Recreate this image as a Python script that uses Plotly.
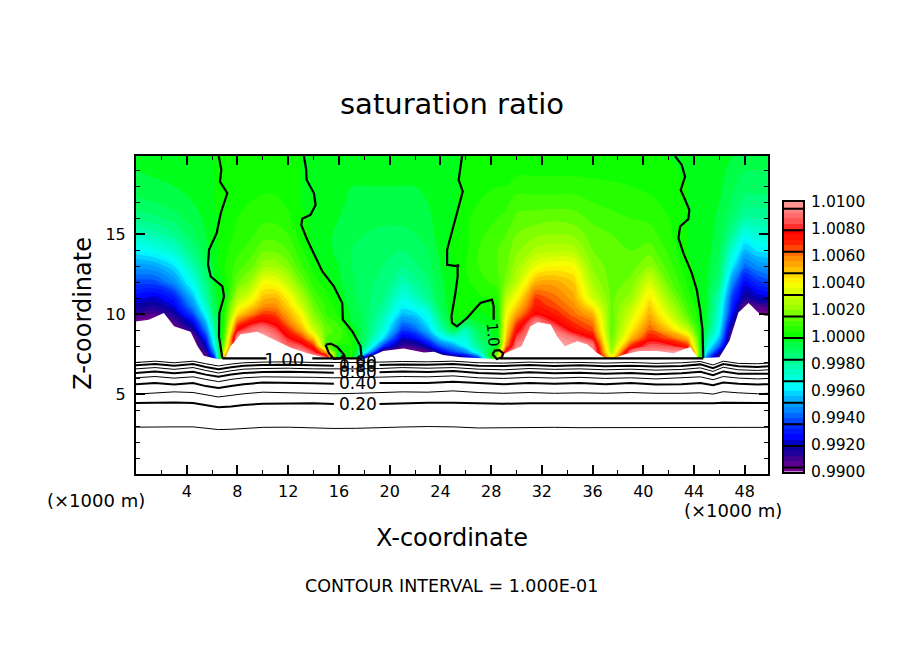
import numpy as np
import plotly.graph_objects as go

# grid of the saturation ratio field, deviation from 1.0 in units of 1e-4
x_grid = [0, 1.5, 3, 4.5, 5.5, 6.2, 7, 8, 9, 10, 11, 12, 13, 14, 15, 16, 17, 18, 19.5, 20, 21, 22, 23, 24, 25, 26, 27,
          28.5, 29.2, 30, 31.5, 33, 34.5, 36, 37.5, 39, 40.5, 42, 43.5, 45, 46, 47, 48, 49, 49.83]
z_grid = [7.2, 7.6, 8, 8.5, 9, 9.5, 10, 10.5, 11, 12, 13, 14, 15, 16, 17, 18, 19, 19.9]

# one profile per x_grid entry, bottom to top
profiles = [
    [-100, -100, -100, -100, -100, -100, -88, -82, -75, -62, -50, -37, -25, -15, -9, -6, -4, -3],
    [-100, -100, -100, -100, -100, -100, -92, -84, -78, -62, -48, -33, -22, -13, -8, -5, -3, -2],
    [-100, -100, -100, -100, -100, -92, -84, -76, -70, -52, -40, -27, -17, -10, -6, -4, -3, -2],
    [-100, -100, -100, -100, -85, -75, -62, -52, -45, -32, -22, -14, -9, -6, -4, -3, -2, -1],
    [-100, -90, -80, -68, -55, -45, -35, -28, -22, -15, -10, -6, -4, -3, -2, -2, -1, -1],
    [-70, -50, -35, -27, -20, -15, -10, -7, -5, -3, -2, -1, -1, -1, 0, 0, 0, 0],
    [60, 40, 25, 15, 10, 7, 5, 3, 1, 1, 4, 3, 2, 2, 1, 1, 1, 0],
    [100, 100, 100, 100, 78, 62, 45, 35, 26, 15, 10, 7, 5, 4, 3, 2, 1, 0],
    [100, 100, 100, 100, 90, 75, 58, 46, 36, 22, 14, 10, 7, 5, 4, 3, 2, 1],
    [100, 100, 100, 100, 95, 80, 68, 57, 50, 38, 22, 15, 10, 7, 5, 3, 2, 1],
    [100, 100, 100, 95, 85, 75, 66, 58, 52, 37, 23, 15, 10, 7, 5, 3, 2, 1],
    [100, 100, 90, 80, 70, 60, 53, 47, 42, 28, 18, 12, 8, 5, 3, 2, 1, 1],
    [100, 100, 85, 70, 55, 46, 40, 32, 26, 16, 9, 5, 2, 1, 0, 0, 0, 0],
    [100, 85, 70, 48, 32, 24, 19, 15, 12, 6, 2, 0, -1, -1, -1, -1, -1, -1],
    [100, 55, 15, 12, 14, 12, 8, 7, 5, 2, -1, -3, -3, -3, -2, -1, -1, -1],
    [-15, -5, 3, 10, 10, 7, 3, 2, -1, -3, -4, -5, -5, -4, -3, -2, -2, -2],
    [8, 6, 4, 2, 0, -4, -5, -6, -7, -7, -8, -8, -7, -6, -5, -4, -3, -3],
    [-85, -30, -14, -10, -9, -9, -9, -10, -10, -10, -10, -9, -8, -6, -5, -4, -3, -3],
    [-100, -100, -65, -40, -30, -26, -22, -18, -16, -14, -12, -10, -9, -7, -5, -4, -3, -2],
    [-100, -100, -75, -55, -42, -36, -30, -25, -21, -16, -13, -11, -9, -7, -5, -4, -3, -2],
    [-100, -100, -90, -78, -65, -55, -45, -37, -32, -23, -16, -12, -9, -7, -5, -4, -3, -2],
    [-100, -100, -88, -74, -60, -50, -42, -33, -26, -18, -13, -10, -8, -6, -5, -4, -3, -2],
    [-100, -95, -78, -60, -45, -38, -33, -25, -18, -13, -10, -8, -6, -5, -4, -3, -2, -1],
    [-100, -80, -60, -40, -25, -18, -12, -8, -6, -5, -4, -3, -2, -2, -2, -2, -1, -1],
    [-100, -65, -50, -30, -8, 1, 1, 0, -1, -1, 0, 1, 1, -1, -1, -1, -1, -1],
    [-90, -55, -35, -30, -24, -8, 2, 3, 3, 3, 4, 3, 3, 3, 2, 1, 1, 0],
    [-70, -30, -18, -12, -8, -4, -1, 1, 3, 6, 8, 8, 7, 6, 4, 3, 2, 1],
    [30, 15, -2, -1, -1, 0, 2, 3, 5, 10, 12, 12, 10, 8, 6, 4, 3, 1],
    [100, 85, 60, 50, 45, 42, 38, 33, 28, 18, 15, 14, 12, 9, 7, 4, 3, 1],
    [100, 100, 95, 85, 75, 65, 55, 47, 40, 28, 23, 19, 16, 13, 10, 6, 3, 2],
    [100, 100, 100, 100, 100, 95, 78, 72, 68, 52, 36, 25, 19, 14, 10, 6, 3, 2],
    [100, 100, 100, 100, 92, 80, 72, 66, 62, 54, 40, 27, 20, 15, 10, 6, 3, 2],
    [100, 100, 100, 92, 75, 68, 62, 58, 54, 48, 39, 26, 19, 14, 10, 6, 3, 2],
    [100, 100, 95, 78, 66, 60, 52, 42, 32, 24, 19, 16, 14, 11, 8, 5, 3, 1],
    [45, 25, 18, 15, 13, 13, 14, 15, 15, 14, 14, 13, 12, 9, 7, 5, 2, 1],
    [100, 95, 70, 50, 42, 36, 32, 27, 22, 17, 14, 12, 10, 8, 6, 4, 2, 1],
    [100, 100, 88, 74, 64, 58, 52, 48, 43, 32, 20, 14, 10, 7, 5, 3, 2, 1],
    [100, 100, 85, 65, 50, 40, 33, 27, 22, 14, 10, 7, 5, 4, 3, 2, 1, 0],
    [100, 100, 70, 50, 30, 18, 12, 9, 6, 3, 1, 0, 0, 0, 0, 0, -1, -1],
    [-60, -40, -28, -18, -10, -7, -5, -4, -4, -3, -3, -2, -2, -2, -2, -2, -2, -2],
    [-100, -80, -60, -45, -37, -33, -30, -28, -24, -15, -10, -8, -6, -5, -4, -3, -3, -3],
    [-100, -100, -100, -100, -92, -82, -72, -68, -64, -52, -38, -28, -18, -12, -9, -7, -5, -4],
    [-100, -100, -100, -100, -100, -100, -100, -96, -84, -74, -58, -45, -33, -20, -14, -10, -8, -6],
    [-100, -100, -100, -100, -100, -100, -100, -92, -80, -66, -52, -39, -28, -20, -14, -10, -8, -6],
    [-100, -100, -100, -100, -100, -100, -100, -90, -78, -62, -50, -38, -27, -20, -14, -10, -8, -7],
]

# lower edge of the coloured area (below it the field is blanked)
ground_x = [0, 1, 2.2, 3, 4.3, 4.85, 5.35, 6.4, 7.0, 7.46, 8.25, 9.56, 10.9, 12.2, 13.5, 14.8, 17.96, 18.5, 19.5,
            21.1, 22.7, 23.5, 24.2, 25.6, 28.4, 29.1, 30.4, 31.1, 31.7, 32.7, 33.2, 33.8, 34.8, 35.6, 36.3, 37, 37.6,
            38.4, 39.7, 41.1, 42.4, 43.2, 43.7, 44.3, 46, 46.8, 47.5, 48.3, 49.05, 49.6, 49.83]
ground_z = [9.55, 9.65, 10.08, 9.24, 8.9, 8.0, 7.4, 7.2, 7.2, 8.0, 8.75, 8.9, 8.4, 7.9, 7.55, 7.3, 7.2, 7.35, 7.7,
            7.85, 7.6, 7.65, 7.45, 7.3, 7.2, 7.55, 8.0, 9.24, 9.5, 9.35, 8.6, 8.0, 8.3, 8.1, 7.6, 7.26, 7.2,
            7.47, 7.7, 7.7, 7.55, 7.8, 7.95, 7.25, 7.3, 8.35, 10.1, 10.7, 10.1, 9.9, 9.9]

# contour lines below the moist layer, levels 0.1 ... 0.9
level_x = [0, 1.5, 3, 4.5, 5.5, 6.5, 7.5, 8.5, 10, 12, 14, 15.6, 17.4, 19.2, 21, 23, 25, 27, 29, 31, 33, 35, 37, 39,
           41, 43, 44.5, 45.5, 46.3, 47.5, 49, 49.83]
level_010 = [2.93, 2.92, 2.95, 2.95, 2.85, 2.78, 2.80, 2.86, 2.92, 2.93, 2.88, 2.85, 2.86, 2.92, 2.94, 2.97, 2.95, 2.88,
             2.90, 2.92, 2.92, 2.90, 2.90, 2.92, 2.92, 2.92, 2.92, 2.92, 2.92, 2.92, 2.92, 2.92]
level_020 = [4.45, 4.48, 4.47, 4.45, 4.32, 4.18, 4.22, 4.32, 4.40, 4.42, 4.42, 4.38, 4.40, 4.38, 4.42, 4.46, 4.46, 4.43,
             4.40, 4.42, 4.42, 4.40, 4.40, 4.42, 4.44, 4.42, 4.44, 4.42, 4.46, 4.46, 4.44, 4.44]
level_030 = [5.00, 5.08, 5.14, 5.10, 4.95, 4.82, 4.92, 5.02, 5.12, 5.10, 5.05, 5.02, 5.05, 5.10, 5.14, 5.12, 5.20, 5.10,
             5.05, 5.10, 5.05, 5.08, 5.05, 5.10, 5.05, 5.05, 5.08, 5.00, 5.15, 5.08, 5.02, 5.05]
level_040 = [5.62, 5.70, 5.60, 5.70, 5.50, 5.38, 5.50, 5.62, 5.72, 5.72, 5.68, 5.65, 5.68, 5.70, 5.72, 5.70, 5.78, 5.68,
             5.62, 5.70, 5.65, 5.70, 5.62, 5.70, 5.60, 5.62, 5.70, 5.55, 5.72, 5.65, 5.60, 5.62]
level_050 = [6.02, 6.10, 6.00, 6.08, 5.92, 5.78, 5.92, 6.02, 6.08, 6.08, 6.05, 6.02, 6.02, 6.06, 6.10, 6.08, 6.14, 6.02,
             5.98, 6.05, 6.00, 6.05, 5.98, 6.02, 5.95, 6.00, 6.08, 5.90, 6.10, 6.00, 5.95, 5.98]
level_060 = [6.32, 6.42, 6.30, 6.40, 6.22, 6.08, 6.22, 6.32, 6.38, 6.40, 6.36, 6.34, 6.34, 6.36, 6.42, 6.38, 6.44, 6.32,
             6.28, 6.36, 6.30, 6.34, 6.28, 6.32, 6.25, 6.30, 6.40, 6.18, 6.42, 6.28, 6.25, 6.28]
level_070 = [6.58, 6.66, 6.55, 6.66, 6.48, 6.32, 6.46, 6.56, 6.60, 6.62, 6.58, 6.56, 6.58, 6.60, 6.66, 6.62, 6.66, 6.56,
             6.52, 6.60, 6.55, 6.58, 6.52, 6.56, 6.50, 6.54, 6.64, 6.42, 6.68, 6.52, 6.48, 6.52]
level_080 = [6.80, 6.88, 6.78, 6.88, 6.70, 6.55, 6.68, 6.78, 6.82, 6.84, 6.80, 6.78, 6.80, 6.82, 6.86, 6.84, 6.88, 6.78,
             6.76, 6.82, 6.76, 6.80, 6.74, 6.78, 6.72, 6.76, 6.86, 6.62, 6.88, 6.74, 6.70, 6.74]
level_090 = [6.98, 7.06, 6.96, 7.06, 6.90, 6.76, 6.88, 6.96, 7.00, 7.02, 6.98, 6.96, 6.98, 7.00, 7.04, 7.02, 7.06, 6.96,
             6.94, 7.00, 6.96, 6.98, 6.94, 6.98, 6.92, 6.96, 7.04, 6.82, 7.06, 6.92, 6.90, 6.94]

# the 1.00 contour, piece by piece
line_a_x = [6.52, 6.73, 6.62, 7.20, 6.68, 6.36, 5.76, 5.68, 5.89, 6.81, 6.94, 6.57, 6.54, 6.81]
line_a_z = [19.9, 19.03, 18.30, 17.57, 16.32, 15.07, 14.03, 13.09, 12.36, 11.74, 11.11, 10.07, 8.61, 7.26]
line_b_x = [13.24, 13.42, 13.45, 14.03, 14.16, 13.76, 13.11, 13.03, 13.50, 14.16, 14.69, 15.60, 16.26, 16.31, 17.05,
            17.70, 17.78]
line_b_z = [19.9, 19.03, 18.41, 17.57, 16.84, 16.22, 15.97, 15.59, 14.66, 13.61, 12.68, 11.74, 10.70, 9.66, 8.93,
            7.99, 7.33]
loop_b_x = [14.94, 15.34, 15.87, 16.39, 16.39, 15.60, 15.20, 14.94]
loop_b_z = [8.09, 8.16, 7.95, 7.47, 7.26, 7.20, 7.58, 8.09]
line_c_x = [25.71, 25.44, 25.76, 25.44, 24.92, 24.53, 24.53, 25.44, 25.36, 25.36, 25.18, 24.87, 24.92, 25.31, 26.10,
            27.15, 28.07, 28.20, 28.20]
line_c_z = [19.9, 18.41, 17.68, 16.74, 15.07, 14.03, 13.09, 12.99, 13.13, 12.36, 11.31, 9.87, 9.45, 9.24, 9.76,
            10.70, 10.91, 10.49, 9.66]
loop_c_x = [28.10, 28.30, 28.65, 28.95, 28.85, 28.45, 28.10]
loop_c_z = [7.50, 7.72, 7.75, 7.55, 7.30, 7.20, 7.50]
line_d_x = [42.50, 43.03, 43.29, 42.95, 43.29, 43.63, 43.55, 42.90, 42.77, 43.16, 43.82, 44.21, 44.47, 44.66, 44.73]
line_d_z = [19.9, 19.34, 18.61, 17.78, 17.16, 16.53, 15.95, 15.49, 14.76, 13.82, 12.57, 11.53, 10.28, 9.03, 7.26]
base_x = [6.8, 10.3, None, 13.9, 17.8, None, 28.7, 44.73]
base_z = [7.24, 7.24, None, 7.24, 7.24, None, 7.24, 7.24]

# colour table, deviation in 1e-4 against colour
scale_dev = [-100, -90, -85, -80, -75, -65, -55, -45, -37, -25, -15, -5, 0, 10, 20, 30, 40, 50, 60, 70, 78, 85, 100]
scale_colors = ['#800090', '#40008f', '#1800a0', '#0000a0', '#0000ff', '#0030ff', '#0080ff', '#00b8ff', '#00ffff',
                '#00ffc0', '#00ff80', '#00ff40', '#00ff00', '#40ff00', '#90ff00', '#c8ff00', '#ffff00', '#ffc000',
                '#ff8000', '#ff2000', '#ff0000', '#ff5050', '#ffa0a0']
colorbar_ticks = [0.99, 0.992, 0.994, 0.996, 0.998, 1.0, 1.002, 1.004, 1.006, 1.008, 1.01]
colorbar_lines = [0.9903, 0.9919, 0.9935, 0.9951, 0.9967, 0.9983, 0.9999, 1.0015, 1.0031, 1.0047, 1.0063, 1.0079,
                  1.0095]
x_ticks = [4, 8, 12, 16, 20, 24, 28, 32, 36, 40, 44, 48]
z_ticks = [5, 10, 15]

W, H = 904, 654
TOP, BOTTOM = 156, 474.5
FONT = 'DejaVu Sans'


def px(x):
    return x / W


def py(y):
    return (BOTTOM - y) / (BOTTOM - TOP)


sat = 1 + np.array(profiles).T * 1e-4
colorscale = [[(d + 100) / 200, c] for d, c in zip(scale_dev, scale_colors)]

fig = go.Figure()
fig.add_trace(go.Contour(
    x=x_grid, y=z_grid, z=sat,
    autocontour=False,
    contours=dict(start=0.99, end=1.01, size=0.0004, coloring='fill', showlines=False),
    line=dict(width=0, smoothing=1),
    zmin=0.99, zmax=1.01, colorscale=colorscale, showscale=False,
))

# blank out everything under the lower edge
fig.add_trace(go.Scatter(x=ground_x, y=ground_z, mode='none', fill='tozeroy', fillcolor='white'))

levels = [level_010, level_020, level_030, level_040, level_050, level_060, level_070, level_080, level_090]
for i, values in enumerate(levels):
    thick = i % 2 == 1
    ys = np.array(values, dtype=float)
    xs = np.array(level_x, dtype=float)
    if thick:
        # leave room for the line labels
        ys[(xs > 15.7) & (xs < 19.1)] = np.nan
    fig.add_trace(go.Scatter(x=xs, y=ys, mode='lines', connectgaps=False,
                             line=dict(color='black', width=2 if thick else 1)))

for xs, zs in [(line_a_x, line_a_z), (line_b_x, line_b_z), (loop_b_x, loop_b_z), (line_c_x, line_c_z),
               (loop_c_x, loop_c_z), (line_d_x, line_d_z), (base_x, base_z)]:
    fig.add_trace(go.Scatter(x=xs, y=zs, mode='lines', line=dict(color='black', width=2.2)))

# colour bar as its own small axes so the box lines can sit on top of it
bar_edges = np.arange(0.99, 1.0101, 0.0004)
bar_mids = (bar_edges[:-1] + bar_edges[1:]) / 2
fig.add_trace(go.Heatmap(x=[0, 1], y=bar_edges, z=[[v] for v in bar_mids], xaxis='x2', yaxis='y2',
                         zmin=0.99, zmax=1.01, colorscale=colorscale, showscale=False))
sep_x, sep_y = [], []
for v in colorbar_lines:
    sep_x += [0, 1, None]
    sep_y += [v, v, None]
fig.add_trace(go.Scatter(x=sep_x, y=sep_y, mode='lines', xaxis='x2', yaxis='y2', line=dict(color='black', width=2)))

# empty trace so the top/right tick axes get drawn
fig.add_trace(go.Scatter(x=[None], y=[None], mode='lines', xaxis='x3', yaxis='y3'))


def label(text, x, y, size, angle=0):
    return dict(text=text, x=px(x), y=py(y), xref='paper', yref='paper', showarrow=False, textangle=angle,
                xanchor='center', yanchor='middle', font=dict(family=FONT, size=size, color='black'))


annotations = [
    label('saturation ratio', 452, 104, 29),
    label('X-coordinate', 452, 539, 24),
    label('Z-coordinate', 83, 314, 24, angle=-90),
    label('CONTOUR INTERVAL = 1.000E-01', 451, 587, 17.5),
    label('(×1000 m)', 96, 501, 18),
    label('(×1000 m)', 733, 511, 18),
    label('1.00', 284, 360, 18),
    label('1.00', 358, 362, 17),
    label('0.80', 358, 366, 17),
    label('0.60', 358, 372, 17),
    label('0.40', 358, 383, 17),
    label('0.20', 358, 404, 17),
    label('1.0', 493, 335, 15, angle=85),
]

tick_font = dict(family=FONT, size=16, color='black')
x_tick_style = dict(range=[0, 49.83], tickmode='array', tickvals=x_ticks, ticks='inside', ticklen=9, tickwidth=2,
                    tickcolor='black', showgrid=False, zeroline=False,
                    minor=dict(dtick=2, tick0=0, ticks='inside', ticklen=4, tickwidth=1, tickcolor='black'))
z_tick_style = dict(range=[0, 19.9], tickmode='array', tickvals=z_ticks, ticks='inside', ticklen=9, tickwidth=2,
                    tickcolor='black', showgrid=False, zeroline=False,
                    minor=dict(dtick=1, tick0=0, ticks='inside', ticklen=4, tickwidth=1, tickcolor='black'))
fig.update_layout(
    width=W, height=H, autosize=False,
    margin=dict(l=0, r=0, t=TOP, b=H - BOTTOM, pad=0),
    paper_bgcolor='white', plot_bgcolor='white',
    showlegend=False, annotations=annotations,
    xaxis=dict(domain=[px(136), px(768)], showline=True, linecolor='black', linewidth=2, mirror=True,
               tickfont=tick_font, ticklabelstandoff=2, **x_tick_style),
    yaxis=dict(domain=[0, 1], showline=True, linecolor='black', linewidth=2, mirror=True,
               tickfont=tick_font, ticklabelstandoff=5, **z_tick_style),
    xaxis3=dict(domain=[px(136), px(768)], overlaying='x', anchor='y3', side='top', showticklabels=False,
                **x_tick_style),
    yaxis3=dict(domain=[0, 1], overlaying='y', anchor='x3', side='right', showticklabels=False, **z_tick_style),
    xaxis2=dict(domain=[px(784), px(803)], range=[0, 1], anchor='y2', showticklabels=False, ticks='',
                showgrid=False, zeroline=False, showline=True, linecolor='black', linewidth=2, mirror=True),
    yaxis2=dict(domain=[py(472), py(202)], range=[0.99, 1.01], anchor='x2', side='right',
                tickmode='array', tickvals=colorbar_ticks, ticktext=['%.4f' % t for t in colorbar_ticks],
                ticks='', tickfont=dict(family=FONT, size=15.5, color='black'), ticklabelstandoff=3,
                showgrid=False, zeroline=False, showline=True, linecolor='black', linewidth=2, mirror=True),
)

fig.write_html("out.html", config={'displayModeBar': False}, post_script="document.body.style.margin='0'")
